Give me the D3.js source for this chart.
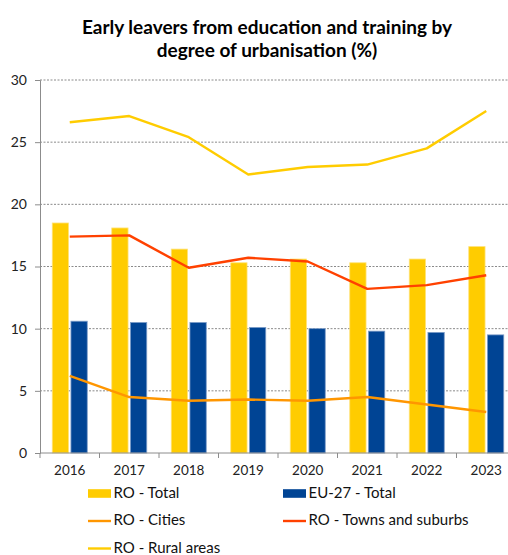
<!DOCTYPE html>
<html>
<head>
<meta charset="utf-8">
<script src="https://cdn.jsdelivr.net/npm/d3@7"></script>
<style>
  html, body { margin: 0; padding: 0; background: #fff; }
  svg { display: block; font-family: Lato, "Open Sans", sans-serif; }
</style>
</head>
<body>
<svg id="chart" width="508" height="555"></svg>
<script>
// Early leavers from education and training, Romania vs EU-27 (%)
const years = ["2016", "2017", "2018", "2019", "2020", "2021", "2022", "2023"];
const roTotal = [18.5, 18.1, 16.4, 15.3, 15.6, 15.3, 15.6, 16.6];
const euTotal = [10.6, 10.5, 10.5, 10.1, 10.0, 9.8, 9.7, 9.5];
const roCities = [6.2, 4.5, 4.2, 4.3, 4.2, 4.5, 3.9, 3.3];
const roTowns = [17.4, 17.5, 14.9, 15.7, 15.4, 13.2, 13.5, 14.3];
const roRural = [26.6, 27.1, 25.4, 22.4, 23.0, 23.2, 24.5, 27.5];
const yTicks = [0, 5, 10, 15, 20, 25, 30];

const colors = {
  roTotal: "#FFCC00",
  euTotal: "#004494",
  cities: "#FF9600",
  towns: "#FF4100",
  rural: "#FFCC00"
};

const svg = d3.select("#chart");
const margin = { left: 40, top: 80, bottom: 453 };
const bandW = 59.5;
const plotRight = margin.left + bandW * years.length;

const x = d3.scaleBand().domain(years).range([margin.left, plotRight]);
const y = d3.scaleLinear().domain([0, 30]).range([margin.bottom, margin.top]);

// Title
const title = svg.append("text")
  .attr("x", 267).attr("text-anchor", "middle")
  .attr("font-weight", "bold").attr("font-size", 19).attr("fill", "#000");
title.append("tspan").attr("x", 267).attr("y", 34).text("Early leavers from education and training by");
title.append("tspan").attr("x", 267).attr("y", 57).text("degree of urbanisation (%)");

// Horizontal gridlines
svg.append("g").selectAll("line")
  .data(yTicks.filter(d => d > 0))
  .join("line")
  .attr("x1", margin.left).attr("x2", 508)
  .attr("y1", d => y(d)).attr("y2", d => y(d))
  .attr("stroke", "#8a8a8a").attr("stroke-width", 1)
  .attr("stroke-dasharray", "2,1.5");

// Y axis
const yAxis = svg.append("g")
  .attr("transform", `translate(${margin.left},0)`)
  .call(d3.axisLeft(y).tickValues(yTicks).tickSize(5).tickPadding(8));
yAxis.select(".domain").attr("stroke", "#8c8c8c");
yAxis.selectAll(".tick line").attr("stroke", "#8c8c8c");
yAxis.selectAll(".tick text").attr("font-size", 14).attr("fill", "#222")
  .attr("font-family", "Lato, sans-serif");

// Bars
const barW = 16.3;
const barGap = 2.4;
const groupOffset = (bandW - (2 * barW + barGap)) / 2;

svg.append("g").selectAll("rect")
  .data(years)
  .join("rect")
  .attr("x", d => x(d) + groupOffset)
  .attr("y", (d, i) => y(roTotal[i]))
  .attr("width", barW)
  .attr("height", (d, i) => y(0) - y(roTotal[i]))
  .attr("fill", colors.roTotal)
  .attr("stroke", "#FFE37A").attr("stroke-width", 0.8);

svg.append("g").selectAll("rect")
  .data(years)
  .join("rect")
  .attr("x", d => x(d) + groupOffset + barW + barGap)
  .attr("y", (d, i) => y(euTotal[i]))
  .attr("width", barW)
  .attr("height", (d, i) => y(0) - y(euTotal[i]))
  .attr("fill", colors.euTotal)
  .attr("stroke", "#7C9CC8").attr("stroke-width", 0.8);

// X axis with ticks between categories
const xAxisG = svg.append("g").attr("transform", `translate(0,${margin.bottom})`);
xAxisG.append("line")
  .attr("x1", margin.left).attr("x2", 508)
  .attr("y1", 0).attr("y2", 0)
  .attr("stroke", "#8c8c8c");
xAxisG.selectAll("line.tk")
  .data(years.concat(["end"]))
  .join("line")
  .attr("class", "tk")
  .attr("x1", (d, i) => margin.left + i * bandW)
  .attr("x2", (d, i) => margin.left + i * bandW)
  .attr("y1", 0).attr("y2", 5)
  .attr("stroke", "#8c8c8c");
xAxisG.selectAll("text")
  .data(years)
  .join("text")
  .attr("x", d => x(d) + x.bandwidth() / 2)
  .attr("y", 22)
  .attr("text-anchor", "middle")
  .attr("font-size", 13.5).attr("fill", "#222")
  .text(d => d);

// Lines
const line = d3.line()
  .x((d, i) => x(years[i]) + x.bandwidth() / 2)
  .y(d => y(d));

[[roCities, colors.cities], [roTowns, colors.towns], [roRural, colors.rural]].forEach(([vals, c]) => {
  svg.append("path")
    .datum(vals)
    .attr("d", line)
    .attr("fill", "none")
    .attr("stroke", c)
    .attr("stroke-width", 2.4)
    .attr("stroke-linejoin", "round");
});

// Legend
const legendItems = [
  { label: "RO - Total", color: colors.roTotal, type: "bar", x: 88, y: 493.5 },
  { label: "EU-27 - Total", color: colors.euTotal, type: "bar", x: 283, y: 493.5 },
  { label: "RO - Cities", color: colors.cities, type: "line", x: 88, y: 521 },
  { label: "RO - Towns and suburbs", color: colors.towns, type: "line", x: 283, y: 521 },
  { label: "RO - Rural areas", color: colors.rural, type: "line", x: 88, y: 548.5 }
];
const lg = svg.append("g").selectAll("g").data(legendItems).join("g")
  .attr("transform", d => `translate(${d.x},${d.y})`);
lg.filter(d => d.type === "bar").append("rect")
  .attr("x", 0).attr("y", -4.3).attr("width", 23).attr("height", 8.6)
  .attr("fill", d => d.color);
lg.filter(d => d.type === "line").append("line")
  .attr("x1", 0).attr("x2", 23).attr("y1", 0).attr("y2", 0)
  .attr("stroke", d => d.color).attr("stroke-width", 2.4);
lg.append("text")
  .attr("x", 25.5).attr("y", 4.2)
  .attr("font-size", 15).attr("fill", "#111")
  .text(d => d.label);
</script>
</body>
</html>
